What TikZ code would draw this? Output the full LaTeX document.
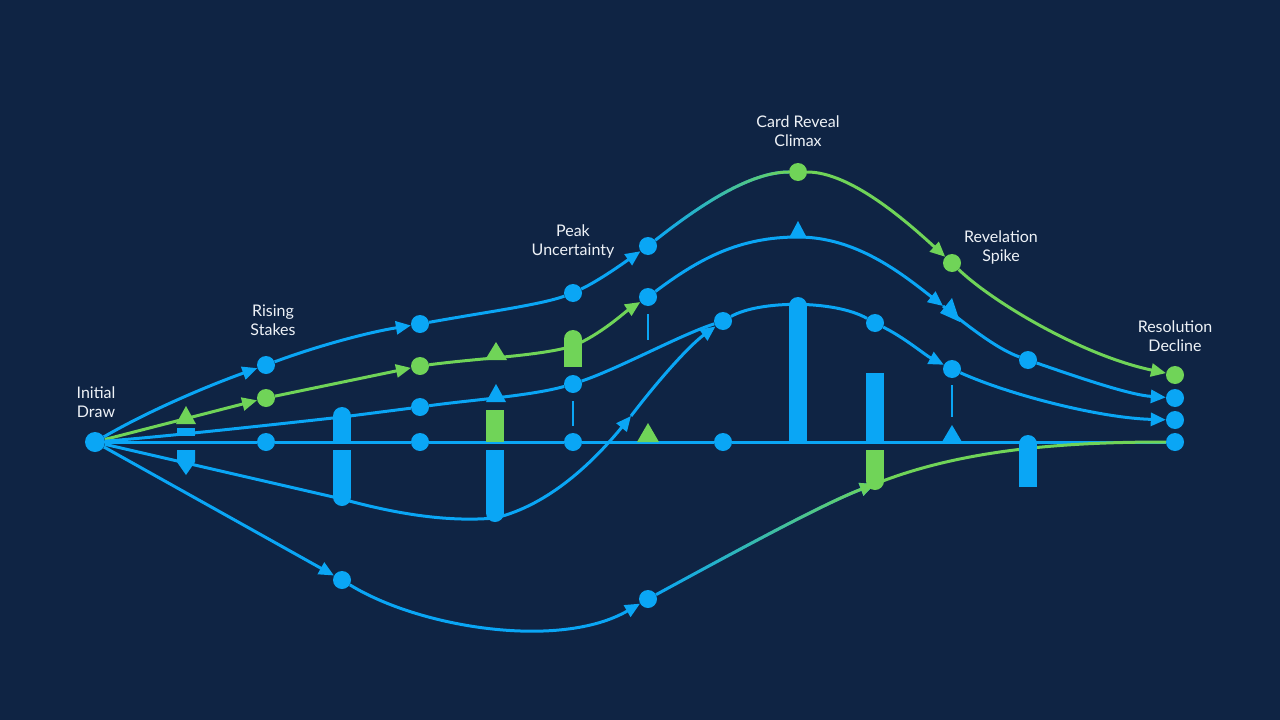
\documentclass[tikz,border=0pt]{standalone}
\usepackage{fontspec}
\setmainfont{Lato}
\usepackage{tikz}
\usetikzlibrary{arrows.meta, fadings}
\definecolor{bgnavy}{HTML}{0F2444}
\definecolor{lineblue}{HTML}{0AA6F5}
\definecolor{linegreen}{HTML}{70D458}
\definecolor{labelwhite}{HTML}{EEF2F7}
\tikzfading[name=toright, left color=transparent!100, right color=transparent!0]
\tikzstyle{start} = [circle, fill=lineblue, inner sep=0pt, minimum size=20pt]
\tikzstyle{dot} = [circle, fill=lineblue, inner sep=0pt, minimum size=18pt]
\tikzstyle{dotg} = [circle, fill=linegreen, inner sep=0pt, minimum size=18pt]
\tikzstyle{flow} = [draw=lineblue, line width=3pt]
\tikzstyle{flowg} = [draw=linegreen, line width=3pt]
\tikzstyle{arrow} = [->, >={Triangle[length=15pt,width=13pt]}]
\tikzstyle{tick} = [draw=lineblue, line width=1.5pt]
\tikzstyle{caption} = [text=labelwhite, align=center, inner sep=1pt, font=\fontsize{16}{19}\selectfont]

\begin{document}
\begin{tikzpicture}[x=1pt, y=-1pt]
\fill[bgnavy] (0,0) rectangle (1280,720);
\useasboundingbox (0,0) rectangle (1280,720);

\node (s0) [start] at (95,442) {};
\node (b1) [dot] at (266,442) {};
\node (b2) [dot] at (420,442) {};
\node (b3) [dot] at (573,442) {};
\node (b4) [dot] at (723,442) {};
\node (bend) [dot] at (1175,442) {};
\node (t1) [dot] at (266,365) {};
\node (t2) [dot] at (420,324) {};
\node (t3) [dot] at (573,293) {};
\node (t4) [dot] at (648,246) {};
\node (peak) [dotg] at (798,172) {};
\node (rev) [dotg] at (952,263) {};
\node (tend) [dotg] at (1175,375) {};
\node (g1) [dotg] at (266,398) {};
\node (g2) [dotg] at (420,366) {};
\node (g3) [dot] at (648,297) {};
\node (m1) [dot] at (1028,360) {};
\node (mend) [dot] at (1175,398) {};
\node (l1) [dot] at (420,407) {};
\node (l2) [dot] at (573,384) {};
\node (l3) [dot] at (723,321) {};
\node (l4) [dot] at (875,323) {};
\node (l5) [dot] at (952,369) {};
\node (lend) [dot] at (1175,420) {};
\node (d1) [dot] at (342,580) {};
\node (d2) [dot] at (648,599) {};

\coordinate (gb) at (573,346);
\coordinate (bp) at (798,237);
\coordinate (x1) at (943,306);
\coordinate (cb) at (342,417);
\coordinate (db1) at (342,499);
\coordinate (db2) at (495,518);
\coordinate (x2) at (631,416);
\coordinate (eb) at (875,484);

\node (initial) [caption] at (96,402) {Initial\\Draw};
\node (rising) [caption] at (273,320) {Rising\\Stakes};
\node (peakunc) [caption] at (573,241) {Peak\\Uncertainty};
\node (climax) [caption] at (798,131) {Card Reveal\\Climax};
\node (revelation) [caption] at (1001,247) {Revelation\\Spike};
\node (resolution) [caption] at (1175,336) {Resolution\\Decline};

\draw [flow] (s0) -- (b1) -- (b2) -- (b3) -- (b4) -- (bend);

\draw [flow, arrow] (s0) .. controls (150,410) and (210,385) .. (t1);
\draw [flow, arrow] (t1) .. controls (320,345) and (370,332) .. (t2);
\draw [flow] (t2) .. controls (480,313) and (540,305) .. (t3);
\draw [flow, arrow] (t3) .. controls (600,280) and (625,262) .. (t4);
\draw [flow] (t4) .. controls (700,205) and (750,172) .. (peak);
\draw [flowg, path fading=toright] (t4) .. controls (700,205) and (750,172) .. (peak);
\draw [flowg, arrow] (peak) .. controls (850,172) and (905,220) .. (rev);
\draw [flowg, arrow] (rev) .. controls (990,300) and (1080,355) .. (tend);

\draw [flowg, arrow] (s0) -- (g1);
\draw [flowg, arrow] (g1) -- (g2);
\draw [flowg] (g2) .. controls (480,358) and (540,356) .. (gb);
\draw [flowg, arrow] (gb) .. controls (600,335) and (625,312) .. (g3);
\draw [flow, arrow] (g3) .. controls (700,258) and (740,237) .. (bp) .. controls (855,237) and (900,272) .. (x1);
\draw [flow] (x1) .. controls (975,332) and (1000,350) .. (m1);
\draw [flow, arrow] (m1) .. controls (1080,378) and (1130,395) .. (mend);

\draw [flow] (s0) .. controls (170,436) and (270,425) .. (cb);
\draw [flow] (cb) -- (l1);
\draw [flow] (l1) .. controls (470,400) and (530,396) .. (l2);
\draw [flow] (l2) .. controls (620,368) and (680,335) .. (l3);
\draw [flow] (l3) .. controls (760,300) and (835,300) .. (l4);
\draw [flow, arrow] (l4) .. controls (905,338) and (925,355) .. (l5);
\draw [flow, arrow] (l5) .. controls (1010,395) and (1100,418) .. (lend);

\draw [flow] (s0) -- (db1);
\draw [flow] (db1) .. controls (400,515) and (450,522) .. (db2);
\draw [flow, arrow] (db2) .. controls (550,505) and (595,460) .. (x2);
\draw [flow, arrow] (x2) .. controls (660,378) and (690,345) .. (l3);

\draw [flow, arrow] (s0) -- (d1);
\draw [flow, arrow] (d1) .. controls (420,628) and (560,650) .. (d2);
\draw [flow, arrow] (d2) .. controls (720,560) and (820,505) .. (eb);
\draw [flowg, arrow, path fading=toright] (d2) .. controls (720,560) and (820,505) .. (eb);
\draw [flowg] (eb) .. controls (960,450) and (1060,442) .. (bend);

\fill[lineblue] (177,428) rectangle (195,436);
\fill[lineblue] (177,450) -- (195,450) -- (195,462) -- (186,475) -- (177,462) -- cycle;
\fill[lineblue] (333,416) rectangle (351,442);
\fill[lineblue] (342,416) circle (9);
\fill[lineblue] (333,450) rectangle (351,497);
\fill[lineblue] (342,497) circle (9);
\fill[linegreen] (486,410) rectangle (504,442);
\fill[lineblue] (486,450) rectangle (504,513);
\fill[lineblue] (495,513) circle (9);
\fill[linegreen] (564,339) rectangle (582,367);
\fill[linegreen] (573,339) circle (9);
\fill[lineblue] (789,306) rectangle (807,442);
\fill[lineblue] (798,306) circle (9);
\fill[lineblue] (866,373) rectangle (884,442);
\fill[linegreen] (866,450) rectangle (884,481);
\fill[linegreen] (875,481) circle (9);
\fill[lineblue] (1019,444) rectangle (1037,487);
\fill[lineblue] (1028,444) circle (9);

\fill[linegreen] (176,424) -- (196,424) -- (186,406) -- cycle;
\fill[linegreen] (485,360) -- (507,360) -- (496,342) -- cycle;
\fill[lineblue] (486,402) -- (506,402) -- (496,384) -- cycle;
\fill[linegreen] (637,442) -- (659,442) -- (648,423) -- cycle;
\fill[lineblue] (789,238) -- (807,238) -- (798,221) -- cycle;
\fill[lineblue] (942,442) -- (962,442) -- (952,425) -- cycle;
\fill[lineblue] (940,313) -- (952,298) -- (960,322) -- cycle;

\draw [tick] (573,401) -- (573,426);
\draw [tick] (648,314) -- (648,340);
\draw [tick] (952,385) -- (952,417);

\end{tikzpicture}
\end{document}
